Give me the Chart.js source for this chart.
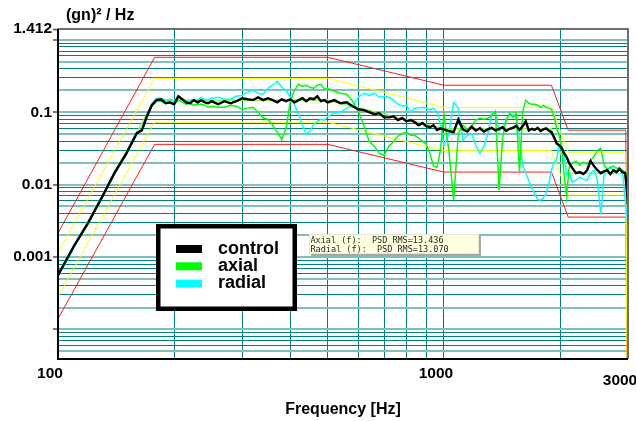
<!DOCTYPE html>
<html>
<head>
<meta charset="utf-8">
<title>PSD control</title>
<script src="https://cdn.jsdelivr.net/npm/chart.js@4.4.1/dist/chart.umd.min.js"></script>
<style>
  html, body { margin: 0; padding: 0; background: #fff; }
  #wrap { width: 636px; height: 421px; }
</style>
</head>
<body>
<div id="wrap"><canvas id="psdChart" width="636" height="421"></canvas></div>
<script>
// measured channels share one frequency grid (Hz)
const freqs = [
  100, 110, 120, 130, 140, 150, 160,
  165, 170, 175, 180, 185, 190, 195, 200, 205,
  210, 215, 220, 225, 230, 235, 240, 245, 250,
  260, 270, 280, 290, 300, 310, 320, 330, 340, 350, 360, 370, 380,
  390, 400, 410, 420, 430, 440, 450, 460, 470, 480, 490, 500,
  520, 540, 560, 580, 600, 620, 640, 660, 680, 700, 720, 740, 760,
  780, 800, 820, 840, 860, 880, 900, 920, 940, 960, 980, 1000,
  1030, 1060, 1090, 1120, 1150, 1180, 1210, 1240, 1270, 1300,
  1330, 1360, 1390, 1420, 1450, 1480, 1510, 1540, 1570, 1600,
  1630, 1660, 1690, 1720, 1750, 1780, 1810, 1840, 1870, 1900,
  1930, 1960, 1990, 2020, 2050, 2080, 2110,
  2150, 2200, 2250, 2300, 2350, 2400, 2450, 2500,
  2550, 2600, 2650, 2700, 2750, 2800, 2850, 2900, 2950, 2980, 3000
];

// PSD in (gn)^2/Hz
const control = [
  5.6e-4, 0.00142, 0.00304, 0.0067, 0.0144, 0.0263, 0.0513,
  0.0565, 0.088, 0.125, 0.147, 0.151, 0.133, 0.137, 0.129, 0.166,
  0.151, 0.137, 0.133, 0.147, 0.137, 0.147, 0.137, 0.133, 0.142,
  0.129, 0.142, 0.133, 0.142, 0.156, 0.151, 0.147, 0.161, 0.147, 0.156, 0.147, 0.137, 0.151,
  0.142, 0.151, 0.137, 0.147, 0.156, 0.142, 0.156, 0.151, 0.166, 0.142, 0.147, 0.137,
  0.147, 0.133, 0.137, 0.121, 0.110, 0.107, 0.100, 0.094, 0.097, 0.085, 0.085, 0.088, 0.078,
  0.083, 0.075, 0.078, 0.073, 0.066, 0.071, 0.064, 0.062, 0.066, 0.057, 0.060, 0.058,
  0.055, 0.053, 0.079, 0.058, 0.054, 0.063, 0.056, 0.060, 0.054, 0.058,
  0.061, 0.056, 0.059, 0.062, 0.055, 0.059, 0.061, 0.065, 0.057, 0.064,
  0.075, 0.056, 0.059, 0.057, 0.061, 0.055, 0.058, 0.060, 0.056, 0.053,
  0.045, 0.037, 0.035, 0.032, 0.027, 0.024, 0.020,
  0.017, 0.0144, 0.0149, 0.0140, 0.0158, 0.0211, 0.0180, 0.0158,
  0.0144, 0.0153, 0.0158, 0.0140, 0.0158, 0.0149, 0.0164, 0.0149, 0.0144, 0.0084, 0.0052
];

const axial = [
  5.4e-4, 0.00137, 0.00294, 0.0065, 0.0140, 0.0255, 0.0498,
  0.0565, 0.085, 0.121, 0.142, 0.142, 0.133, 0.133, 0.129, 0.147,
  0.137, 0.129, 0.133, 0.125, 0.129, 0.129, 0.125, 0.117, 0.121,
  0.117, 0.117, 0.125, 0.121, 0.110, 0.114, 0.117, 0.100, 0.083, 0.080, 0.066, 0.053, 0.042,
  0.060, 0.142, 0.201, 0.243, 0.228, 0.236, 0.221, 0.214, 0.236, 0.243, 0.208, 0.214,
  0.195, 0.183, 0.177, 0.142, 0.103, 0.066, 0.040, 0.034, 0.027, 0.0255, 0.034, 0.039, 0.047,
  0.051, 0.053, 0.048, 0.048, 0.044, 0.040, 0.036, 0.027, 0.018, 0.0174, 0.030, 0.094,
  0.030, 0.0061, 0.051, 0.066, 0.058, 0.064, 0.078, 0.083, 0.080, 0.083,
  0.088, 0.103, 0.0084, 0.045, 0.078, 0.097, 0.085, 0.097, 0.0149, 0.100,
  0.147, 0.133, 0.129, 0.129, 0.125, 0.117, 0.125, 0.117, 0.114, 0.110,
  0.088, 0.060, 0.048, 0.032, 0.0131, 0.0069, 0.0169,
  0.0198, 0.0211, 0.0186, 0.0204, 0.0192, 0.0218, 0.0247, 0.0299,
  0.0319, 0.0186, 0.0164, 0.0174, 0.0180, 0.0169, 0.0169, 0.0158, 0.0149, 0.0115, 0.0061
];

const radial = [
  5.8e-4, 0.00146, 0.00314, 0.0069, 0.0149, 0.0272, 0.053,
  0.058, 0.091, 0.129, 0.156, 0.156, 0.147, 0.151, 0.142, 0.166,
  0.151, 0.142, 0.147, 0.151, 0.147, 0.161, 0.151, 0.147, 0.156,
  0.161, 0.151, 0.151, 0.166, 0.171, 0.189, 0.201, 0.183, 0.177, 0.214, 0.236, 0.268, 0.221,
  0.201, 0.161, 0.129, 0.094, 0.066, 0.050, 0.055, 0.068, 0.075, 0.080, 0.078, 0.088,
  0.097, 0.100, 0.114, 0.121, 0.161, 0.183, 0.171, 0.183, 0.161, 0.166, 0.161, 0.147, 0.129,
  0.121, 0.125, 0.100, 0.114, 0.114, 0.117, 0.114, 0.107, 0.114, 0.100, 0.068, 0.035,
  0.050, 0.137, 0.114, 0.041, 0.048, 0.050, 0.035, 0.027, 0.034, 0.050,
  0.097, 0.097, 0.055, 0.062, 0.078, 0.094, 0.091, 0.085, 0.044, 0.0186,
  0.0144, 0.0112, 0.0090, 0.0074, 0.0063, 0.0061, 0.0065, 0.0076, 0.0102, 0.0158,
  0.0204, 0.0218, 0.035, 0.035, 0.0255, 0.0135, 0.0149,
  0.0108, 0.0115, 0.0127, 0.0119, 0.0115, 0.0144, 0.0158, 0.0115,
  0.0039, 0.0140, 0.0158, 0.0174, 0.0158, 0.0144, 0.0174, 0.0158, 0.0061, 0.0037, 0.0028
];

// test profile breakpoints and its tolerance bands
const profileFreqs = [100, 178, 500, 1000, 1900, 2100, 2960, 3000];
const reference = [5.5e-4, 0.146, 0.146, 0.059, 0.059, 0.0142, 0.0142, 0.0142];
const alarmHigh = [0.00114, 0.294, 0.294, 0.117, 0.117, 0.028, 0.028, 1e-6];
const alarmLow  = [2.8e-4, 0.0728, 0.0728, 0.0295, 0.0295, 0.00716, 0.00716, 1e-6];
const abortHigh = [0.00214, 0.574, 0.574, 0.236, 0.236, 0.0565, 0.0565, 1e-6];
const abortLow  = [1.4e-4, 0.036, 0.036, 0.0149, 0.0149, 0.00356, 0.00356, 1e-6];

// axis ranges and labels
const xMin = 100, xMax = 3000;
const yMin = 3.9e-5, yMax = 1.412;
const xGridValues = [100, 200, 300, 400, 500, 600, 700, 800, 900, 1000, 2000, 3000];
const xTickLabels = [100, 1000, 3000];
const yTickLabels = [1.412, 0.1, 0.01, 0.001];
const rmsNotes = ['Axial (f):  PSD RMS=13.436', 'Radial (f):  PSD RMS=13.070'];

const FONT = '"Liberation Sans", Arial, sans-serif';

function pairs(xs, ys) {
  return xs.map((x, i) => ({ x: x, y: ys[i] }));
}

// 1..9 per decade, plus the top of the axis
const yGridValues = [];
for (let e = -5; e <= 0; e++) {
  for (let m = 1; m <= 9; m++) {
    const v = m * Math.pow(10, e);
    if (v >= yMin && v <= yMax) yGridValues.push(v);
  }
}
yGridValues.push(yMax);

function mantissa(v) {
  const e = Math.floor(Math.log10(v) + 1e-9);
  return Math.round(v / Math.pow(10, e) * 1000) / 1000;
}

function isLabelled(list, v) {
  return list.some(t => Math.abs(t - v) / t < 1e-6);
}

const frameAndNotes = {
  id: 'frameAndNotes',
  afterDatasetsDraw(chart) {
    const { ctx, chartArea: a } = chart;
    ctx.save();

    // plot frame
    ctx.lineWidth = 2;
    ctx.strokeStyle = '#6e6e6e';
    ctx.beginPath();
    ctx.moveTo(a.left, a.top);
    ctx.lineTo(a.right, a.top);
    ctx.lineTo(a.right, a.bottom);
    ctx.stroke();
    ctx.strokeStyle = '#000';
    ctx.beginPath();
    ctx.moveTo(a.left, a.top);
    ctx.lineTo(a.left, a.bottom);
    ctx.lineTo(a.right, a.bottom);
    ctx.stroke();

    // unit label above the y axis
    ctx.fillStyle = '#000';
    ctx.font = 'bold 16px ' + FONT;
    ctx.textAlign = 'left';
    ctx.textBaseline = 'middle';
    ctx.fillText('(gn)\u00b2 / Hz', 66, 16);

    // legend box for the three channels
    const lx = 156, ly = 224, lw = 141, lh = 87, bw = 4.5;
    ctx.fillStyle = '#000';
    ctx.fillRect(lx, ly, lw, lh);
    ctx.fillStyle = '#fff';
    ctx.fillRect(lx + bw, ly + bw, lw - 2 * bw, lh - 2 * bw);
    ctx.font = 'bold 18px ' + FONT;
    ctx.textBaseline = 'alphabetic';
    chart.data.datasets.slice(0, 3).forEach((ds, i) => {
      const cy = 249 + i * 17.3;
      ctx.fillStyle = ds.borderColor;
      ctx.fillRect(176, cy - 4, 26, 8);
      ctx.fillStyle = '#000';
      ctx.fillText(ds.label, 218, cy + 4.5);
    });

    // RMS readout
    const nx = 309, ny = 234, nw = 170, nh = 20;
    ctx.fillStyle = '#a8a8a0';
    ctx.fillRect(nx + 2, ny + 2, nw, nh);
    ctx.fillStyle = '#ffffe1';
    ctx.fillRect(nx, ny, nw, nh);
    ctx.strokeStyle = '#e8e8d0';
    ctx.lineWidth = 1;
    ctx.strokeRect(nx + 0.5, ny + 0.5, nw - 1, nh - 1);
    ctx.fillStyle = '#2a2a20';
    ctx.font = '8.5px "DejaVu Sans Mono", "Liberation Mono", monospace';
    ctx.fillText(rmsNotes[0], nx + 1.5, ny + 8.7);
    ctx.fillText(rmsNotes[1], nx + 1.5, ny + 18);

    ctx.restore();
  }
};

new Chart(document.getElementById('psdChart'), {
  type: 'line',
  data: {
    datasets: [
      { label: 'control', data: pairs(freqs, control), borderColor: '#000000', borderWidth: 2.4 },
      { label: 'axial', data: pairs(freqs, axial), borderColor: '#00ff00', borderWidth: 1.5 },
      { label: 'radial', data: pairs(freqs, radial), borderColor: '#00ffff', borderWidth: 1.5 },
      { label: 'reference', data: pairs(profileFreqs, reference), borderColor: '#86ff4c', borderWidth: 1.5 },
      { label: 'alarm high', data: pairs(profileFreqs, alarmHigh), borderColor: '#ffff00', borderWidth: 1 },
      { label: 'alarm low', data: pairs(profileFreqs, alarmLow), borderColor: '#ffff00', borderWidth: 1 },
      { label: 'abort high', data: pairs(profileFreqs, abortHigh), borderColor: '#ff1a1a', borderWidth: 1 },
      { label: 'abort low', data: pairs(profileFreqs, abortLow), borderColor: '#ff1a1a', borderWidth: 1 }
    ]
  },
  options: {
    responsive: false,
    animation: false,
    devicePixelRatio: 1,
    events: [],
    layout: { padding: { left: 0, top: 29, right: 8, bottom: 0 } },
    elements: {
      point: { radius: 0 },
      line: { tension: 0, fill: false }
    },
    plugins: {
      legend: { display: false },
      tooltip: { enabled: false }
    },
    scales: {
      x: {
        type: 'logarithmic',
        min: xMin,
        max: xMax,
        afterBuildTicks: scale => { scale.ticks = xGridValues.map(v => ({ value: v })); },
        afterFit: scale => { scale.height = 62; scale.paddingLeft = 0; scale.paddingRight = 0; },
        border: { display: false },
        grid: {
          drawTicks: false,
          lineWidth: 1,
          color: ctx => (ctx.tick.value === xMin || ctx.tick.value === xMax) ? 'rgba(0,0,0,0)' : '#008080'
        },
        ticks: {
          autoSkip: false,
          maxRotation: 0,
          padding: 5,
          labelOffset: -8,
          color: '#000',
          // the end label drops a little below the others
          font: ctx => ({
            family: FONT, size: 15.5, weight: 'bold',
            lineHeight: (ctx.tick && ctx.tick.value === xMax) ? 2.2 : 1.2
          }),
          callback: v => xTickLabels.includes(v) ? String(v) : ''
        },
        title: {
          display: true,
          text: 'Frequency [Hz]',
          color: '#000',
          font: { family: FONT, size: 16, weight: 'bold' },
          padding: { top: 0, bottom: 2 }
        }
      },
      y: {
        type: 'logarithmic',
        min: yMin,
        max: yMax,
        afterBuildTicks: scale => { scale.ticks = yGridValues.map(v => ({ value: v })); },
        afterFit: scale => { scale.width = 58; scale.paddingTop = 0; scale.paddingBottom = 0; },
        border: { display: false },
        grid: {
          drawTicks: true,
          tickLength: 5,
          color: ctx => {
            const m = mantissa(ctx.tick.value);
            if (m === 1 || m === 2 || m === 5) return '#7fbfbf';
            return Number.isInteger(m) ? '#008080' : 'rgba(0,0,0,0)';
          },
          lineWidth: ctx => {
            const m = mantissa(ctx.tick.value);
            return (m === 1 || m === 2 || m === 5) ? 2 : 1;
          },
          tickColor: ctx => {
            const v = ctx.tick.value;
            return (mantissa(v) === 1 || v === yMax) ? '#505050' : 'rgba(0,0,0,0)';
          },
          tickWidth: 1.5
        },
        ticks: {
          autoSkip: false,
          padding: 1,
          color: '#000',
          font: { family: FONT, size: 15.5, weight: 'bold' },
          callback: v => isLabelled(yTickLabels, v) ? String(v) : ''
        }
      }
    }
  },
  plugins: [frameAndNotes]
});
</script>
</body>
</html>
